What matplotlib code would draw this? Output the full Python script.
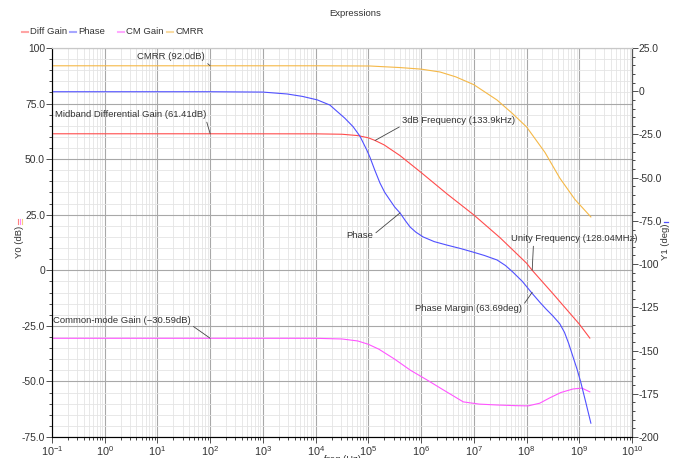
import matplotlib
matplotlib.use('Agg')
import matplotlib.pyplot as plt
import numpy as np
from matplotlib.lines import Line2D
from matplotlib.ticker import FixedLocator, FuncFormatter, LogLocator, MultipleLocator

plt.rcParams['font.family'] = ['Liberation Sans', 'DejaVu Sans']

# Data (x values are log10 of frequency in Hz)
diff_logf = [-1, 2, 4, 4.5, 4.8, 5.0, 5.127, 5.3, 5.6, 6.0, 6.5, 7.0, 7.5, 8.0, 8.107, 8.5, 9.0, 9.2]
diff_gain = [61.41, 61.41, 61.38, 61.2, 60.6, 59.6, 58.4, 56.4, 51.6, 44.0, 34.2, 24.9, 14.6, 3.2,
             0.0, -10.5, -24.2, -30.5]

phase_logf = [-1, 2, 3.0, 3.46, 3.75, 4.03, 4.27, 4.40, 4.55, 4.71, 4.84, 4.97, 5.03, 5.12,
              5.22, 5.31, 5.41, 5.50, 5.60, 5.70, 5.79, 5.90, 6.04, 6.25, 6.49, 6.75, 6.98,
              7.2, 7.44, 7.6, 7.74, 7.92, 8.10, 8.25, 8.37, 8.50, 8.63, 8.72, 8.80, 8.88,
              8.96, 9.03, 9.12, 9.22]
phase = [-0.3, -0.3, -0.5, -1.6, -3.0, -5.0, -8.0, -11.5, -15.5, -20.5, -26.0, -34.0, -38.2, -45.5,
         -53.1, -58.5, -63.0, -67.0, -70.4, -74.8, -78.5, -81.5, -84.3, -87.0, -89.0, -91.0, -93.0,
         -95.0, -97.6, -100.8, -104.6, -110.0, -116.7, -122.0, -126.0, -130.0, -134.5, -139.5,
         -146.0, -153.5, -161.0, -168.5, -179.5, -192.0]

cm_logf = [-1, 2, 4, 4.5, 4.8, 5.0, 5.2, 5.5, 5.8, 6.11, 6.4, 6.8, 7.1, 7.44, 7.8, 8.03,
           8.25, 8.44, 8.65, 8.88, 9.05, 9.20]
cm_gain = [-30.59, -30.59, -30.6, -30.9, -31.8, -33.3, -35.5, -40.0, -45.0, -49.3, -53.5, -59.2,
           -60.2, -60.6, -60.9, -61.0, -59.8, -57.4, -55.0, -53.4, -53.0, -54.7]

cmrr_logf = [-1, 2, 4, 5.03, 5.6, 6.0, 6.36, 6.66, 7.0, 7.44, 7.72, 8.0, 8.35, 8.63, 8.92, 9.22]
cmrr = [92.0, 92.0, 92.0, 91.9, 91.2, 90.5, 89.2, 87.0, 83.5, 76.6, 70.8, 64.5, 53.0, 41.5,
        31.8, 24.0]

y0_ticks = [100, 75, 50, 25, 0, -25, -50, -75]
y1_ticks = [25, 0, -25, -50, -75, -100, -125, -150, -175, -200]

series_names = ['Diff Gain', 'Phase', 'CM Gain', 'CMRR']

c_diff = '#ff4c4c'
c_phase = '#5050ff'
c_cm = '#ff55ff'
c_cmrr = '#f5b847'
c_text = '#333333'

fs = 6.8
fig = plt.figure(figsize=(6.77, 4.58), dpi=100)
ax = fig.add_axes([52/677, 21/458, 580/677, 389/458])
ax2 = ax.twinx()

def hz(lf):
    return 10.0 ** np.asarray(lf, dtype=float)

ax.plot(hz(diff_logf), diff_gain, color=c_diff, lw=0.8)
ax.plot(hz(cm_logf), cm_gain, color=c_cm, lw=0.8)
ax.plot(hz(cmrr_logf), cmrr, color=c_cmrr, lw=0.8)
ax2.plot(hz(phase_logf), phase, color=c_phase, lw=0.8)

ax.set_xscale('log')
ax.set_xlim(1e-1, 1e10)
ax.set_ylim(-75, 100)
ax2.set_ylim(-200, 25)

ax.xaxis.set_major_locator(LogLocator(base=10, numticks=20))
ax.xaxis.set_minor_locator(LogLocator(base=10, subs=np.arange(2, 10), numticks=20))
ax.yaxis.set_major_locator(FixedLocator(y0_ticks))
ax.yaxis.set_minor_locator(MultipleLocator(5))
ax2.yaxis.set_major_locator(FixedLocator(y1_ticks))
ax2.yaxis.set_minor_locator(MultipleLocator(5))

def fmt0(v, pos):
    if v == 0:
        return '0'
    if abs(v) >= 100:
        return '%d' % v
    return '%.1f' % v

ax.yaxis.set_major_formatter(FuncFormatter(fmt0))
ax2.yaxis.set_major_formatter(FuncFormatter(fmt0))

ax.grid(which='major', color='#a8a8a8', lw=0.8)
ax.grid(which='minor', color='#e4e4e4', lw=0.6)
ax.set_axisbelow(True)

for a in (ax, ax2):
    a.tick_params(labelsize=fs + 0.6, colors=c_text, length=4, width=0.6, pad=1)
    a.tick_params(which='minor', length=2, width=0.5)
    a.spines['top'].set_color('#c8c8c8')
ax.tick_params(axis='x', labelsize=fs + 1.0, pad=1)
ax.spines['left'].set_color('#555555')
ax.spines['bottom'].set_color('#555555')
ax2.spines['right'].set_color('#555555')

# annotations with leader lines
line_kw = dict(arrowstyle='-', color='#444444', lw=0.6, shrinkA=0, shrinkB=0)
txt_kw = dict(fontsize=fs, color=c_text, va='center')
ax.annotate('CMRR (92.0dB)', xy=(1e2, 92.0), xytext=(10**1.9, 96.0), ha='right',
            arrowprops=dict(line_kw, relpos=(1, 0)), **txt_kw)
ax.annotate('Midband Differential Gain (61.41dB)', xy=(1e2, 61.41), xytext=(10**1.92, 69.9),
            ha='right', arrowprops=dict(line_kw, relpos=(1, 0)), **txt_kw)
ax.annotate('Common-mode Gain (\u221230.59dB)', xy=(1e2, -30.59), xytext=(10**1.63, -22.4),
            ha='right', arrowprops=dict(line_kw, relpos=(1, 0)), **txt_kw)
ax.annotate('3dB Frequency (133.9kHz)', xy=(133.9e3, 58.4), xytext=(10**5.64, 67.2),
            ha='left', arrowprops=dict(line_kw, relpos=(0, 0)), **txt_kw)
ax.annotate('Unity Frequency (128.04MHz)', xy=(128.04e6, 0.0), xytext=(10**7.70, 14.1),
            ha='left', arrowprops=dict(line_kw, relpos=(0.18, 0)), **txt_kw)
ax2.annotate('Phase', xy=(10**5.6, -70.4), xytext=(10**5.09, -83.7), ha='right',
             arrowprops=dict(line_kw, relpos=(1, 0.6)), **txt_kw)
ax2.annotate('Phase Margin (63.69deg)', xy=(128.04e6, -116.3), xytext=(10**7.91, -125.4),
             ha='right', arrowprops=dict(line_kw, relpos=(1, 0.6)), **txt_kw)

# title and axis labels
fig.text(355/677, 1 - 14/458, 'Expressions', ha='center', va='center', fontsize=fs, color=c_text)
fig.text(342/677, -1/458, 'freq (Hz)', ha='center', va='center', fontsize=fs, color=c_text)
fig.text(19/677, 1 - 242/458, 'Y0 (dB)', rotation=90, ha='center', va='center',
         fontsize=fs, color=c_text)
fig.text(665/677, 1 - 242/458, 'Y1 (deg)', rotation=90, ha='center', va='center',
         fontsize=fs, color=c_text)
# small colour keys next to the axis labels
for i, c in enumerate([c_diff, c_cm, c_cmrr]):
    xk = (17.5 + i * 2.2) / 677
    fig.add_artist(Line2D([xk, xk], [1 - 224/458, 1 - 219/458], color=c, lw=0.8, alpha=0.7,
                          transform=fig.transFigure))
fig.add_artist(Line2D([664/677, 668/677], [1 - 222/458, 1 - 222/458], color=c_phase, lw=0.9,
                      transform=fig.transFigure))

# legend row: short swatch + name, at the original's fixed slots
legend_x = [22, 70, 118, 167]
legend_c = [c_diff, c_phase, c_cm, c_cmrr]
ly = 1 - 32/458
for x0, name, c in zip(legend_x, series_names, legend_c):
    fig.add_artist(Line2D([x0/677, (x0 + 6)/677], [ly, ly], color=c, lw=1.5, alpha=0.5,
                          transform=fig.transFigure))
    fig.text((x0 + 8)/677, ly, name, ha='left', va='center', fontsize=fs, color=c_text)

fig.savefig('out.png', dpi=100)
